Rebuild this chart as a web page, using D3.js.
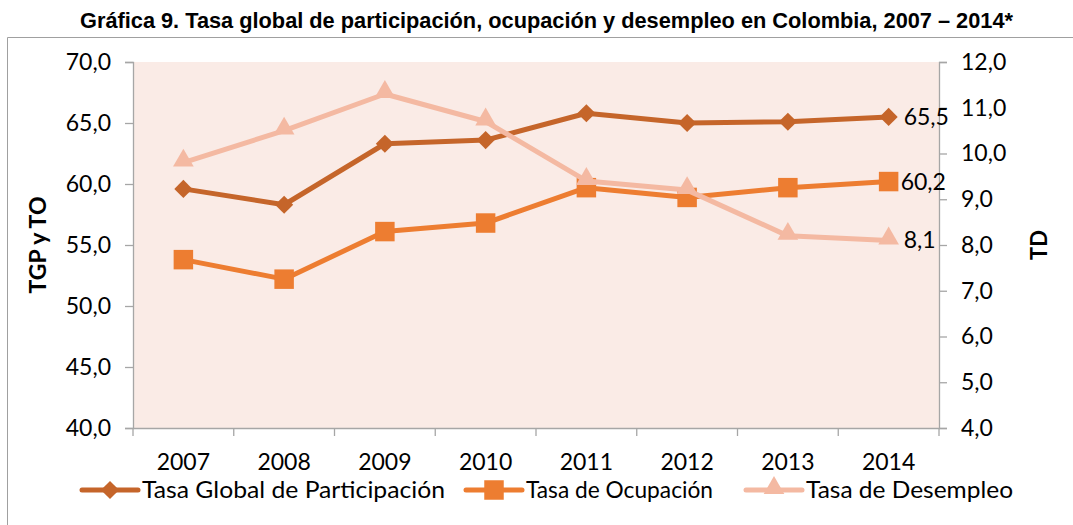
<!DOCTYPE html>
<html><head><meta charset="utf-8">
<script src="https://cdn.jsdelivr.net/npm/d3@7"></script>
<style>body{margin:0;background:#fff}svg{display:block}text{font-family:Lato,"Open Sans",sans-serif}</style>
</head><body><svg id="c" width="1073" height="525"></svg>
<script>
const years = ["2007","2008","2009","2010","2011","2012","2013","2014"];
const tgp = [59.6, 58.3, 63.3, 63.6, 65.8, 65.0, 65.1, 65.5];
const to = [53.8, 52.2, 56.1, 56.8, 59.7, 58.9, 59.7, 60.2];
const td = [9.8, 10.5, 11.3, 10.7, 9.4, 9.2, 8.2, 8.1];
const leftTicks = [40,45,50,55,60,65,70];
const rightTicks = [4,5,6,7,8,9,10,11,12];
const seriesNames = ["Tasa Global de Participación","Tasa de Ocupación","Tasa de Desempleo"];
const title = "Gráfica 9. Tasa global de participación, ocupación y desempleo en Colombia, 2007 – 2014*";

const svg = d3.select("#c");
const L=133, R=939, T=62, B=428;
const fmt = v => d3.format(".1f")(v).replace(".", ",");
const colors = ["#C5652A","#ED7D31","#F4B9A2"];
const axisCol = "#A6A6A6";

// outer border
svg.append("line").attr("x1",7.5).attr("x2",1073).attr("y1",37.5).attr("y2",37.5).attr("stroke","#A0A0A0");
svg.append("line").attr("x1",7.5).attr("x2",7.5).attr("y1",37.5).attr("y2",525).attr("stroke","#A0A0A0");

svg.append("text").attr("x",80).attr("y",28)
  .attr("font-weight","bold").attr("font-size",22)
  .style("font-family","'Liberation Sans',Arial,sans-serif")
  .attr("textLength",933).attr("lengthAdjust","spacingAndGlyphs").text(title);

const x = d3.scaleBand().domain(years).range([L,R]);
const yL = d3.scaleLinear().domain([40,70]).range([B,T]);
const yR = d3.scaleLinear().domain([4,12]).range([B,T]);

svg.append("rect").attr("x",L).attr("y",T).attr("width",R-L).attr("height",B-T).attr("fill","#FAEBE6");

// axes
const gl = svg.append("g").attr("transform",`translate(${L},0)`)
  .call(d3.axisLeft(yL).tickValues(leftTicks).tickFormat(fmt).tickSize(8).tickPadding(14));
const gr = svg.append("g").attr("transform",`translate(${R},0)`)
  .call(d3.axisRight(yR).tickValues(rightTicks).tickFormat(fmt).tickSize(8).tickPadding(14));
const gb = svg.append("g").attr("transform",`translate(0,${B})`)
  .call(d3.axisBottom(x).tickSize(0).tickPadding(26));
[gl,gr,gb].forEach(g=>{
  g.select(".domain").attr("stroke",axisCol).attr("stroke-width",1.3);
  g.selectAll(".tick line").attr("stroke",axisCol).attr("stroke-width",1.3);
  g.selectAll(".tick text").attr("font-size",23).attr("fill","#000").style("font-family","Lato,sans-serif");
});
// x category boundary ticks
const bounds = years.map(y=>x(y)).concat([R]);
svg.append("g").selectAll("line").data(bounds).join("line")
  .attr("x1",d=>d).attr("x2",d=>d).attr("y1",B).attr("y2",B+8).attr("stroke",axisCol).attr("stroke-width",1.3);

svg.append("text").attr("transform","translate(46,245) rotate(-90)").attr("text-anchor","middle")
  .attr("font-weight","bold").attr("font-size",22).attr("textLength",97).attr("lengthAdjust","spacingAndGlyphs").text("TGP y TO");
svg.append("text").attr("transform","translate(1047,245) rotate(-90)").attr("text-anchor","middle")
  .attr("font-weight","bold").attr("font-size",22).text("TD");

const cx = (d,i)=>x(years[i])+x.bandwidth()/2;
const series = [
  {vals:tgp, y:yL, col:colors[0], sym:d3.symbolSquare, size:165, rot:45},
  {vals:to, y:yL, col:colors[1], sym:d3.symbolSquare, size:380, rot:0},
  {vals:td, y:yR, col:colors[2], sym:d3.symbolTriangle, size:185, rot:0}
];
series.forEach(s=>{
  const line = d3.line().x(cx).y(d=>s.y(d));
  svg.append("path").datum(s.vals).attr("d",line).attr("fill","none")
    .attr("stroke",s.col).attr("stroke-width",5).attr("stroke-linejoin","round");
  svg.append("g").selectAll("path").data(s.vals).join("path")
    .attr("transform",(d,i)=>`translate(${cx(d,i)},${s.y(d)+(s.sym===d3.symbolTriangle?-2:0)}) rotate(${s.rot})`)
    .attr("d",d3.symbol().type(s.sym).size(s.size)).attr("fill",s.col);
});
// end labels
series.forEach((s,k)=>{
  const last = s.vals[s.vals.length-1];
  svg.append("text").attr("x",cx(last,7)+(k===1?12:15)).attr("y",s.y(last)).attr("dy","0.35em")
    .attr("font-size",23).text(fmt(last));
});

// legend
const leg = [{x0:82,col:colors[0],sym:d3.symbolSquare,size:165,rot:45,w:303},{x0:466,col:colors[1],sym:d3.symbolSquare,size:380,rot:0,w:187},{x0:746,col:colors[2],sym:d3.symbolTriangle,size:185,rot:0,w:207}];
const ly = 490;
leg.forEach((l,i)=>{
  const g = svg.append("g");
  g.append("line").attr("x1",l.x0).attr("x2",l.x0+56).attr("y1",ly).attr("y2",ly).attr("stroke",l.col).attr("stroke-width",5).attr("stroke-linecap","round");
  g.append("path").attr("transform",`translate(${l.x0+28},${ly+(i===2?-2:0)}) rotate(${l.rot})`).attr("d",d3.symbol().type(l.sym).size(l.size)).attr("fill",l.col);
  g.append("text").attr("x",l.x0+60).attr("y",ly).attr("dy","0.35em").attr("font-size",23)
    .attr("textLength",l.w).attr("lengthAdjust","spacingAndGlyphs").text(seriesNames[i]);
});
</script></body></html>
